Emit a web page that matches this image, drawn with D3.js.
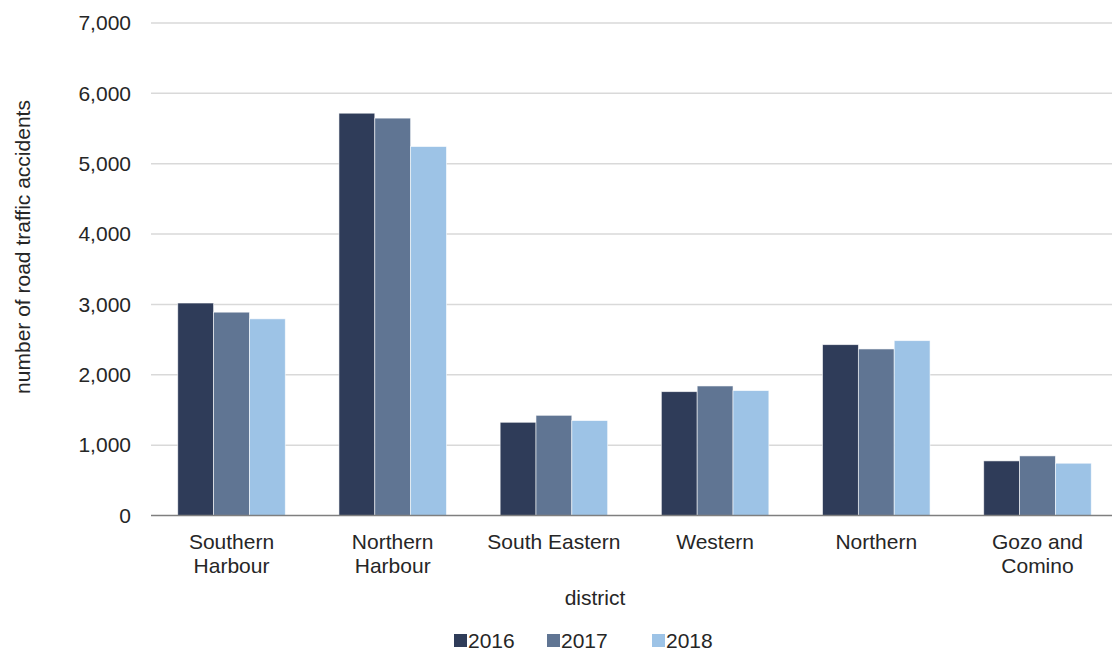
<!DOCTYPE html>
<html><head><meta charset="utf-8">
<script src="https://cdn.jsdelivr.net/npm/d3@7"></script>
<style>body{margin:0;background:#fff;}svg{display:block;font-family:"Liberation Sans",Arial,sans-serif;}</style>
</head><body><svg id="c" width="1112" height="651"></svg>
<script>
const categories = [["Southern","Harbour"],["Northern","Harbour"],["South Eastern"],["Western"],["Northern"],["Gozo and","Comino"]];
const years = ["2016","2017","2018"];
const v2016 = [3020, 5718, 1325, 1760, 2428, 776];
const v2017 = [2890, 5648, 1424, 1841, 2367, 847];
const v2018 = [2795, 5244, 1349, 1775, 2485, 743];
const yTicks = [0,1000,2000,3000,4000,5000,6000,7000];
const colors = ["#2F3C59","#607593","#9DC3E6"];
const series = [v2016, v2017, v2018];

(function(){
const svg = d3.select("#c");
const pLeft = 151, pRight = 1118, pTop = 23, pBottom = 515.5;
const FS = 21, TXT = "#262626";
const keys = categories.map((c,i)=>i);
const x = d3.scaleBand().domain(keys).range([pLeft,pRight]).paddingInner(0.333).paddingOuter(0.166);
const x1 = d3.scaleBand().domain(years).range([0,x.bandwidth()]);
const y = d3.scaleLinear().domain([0,7000]).range([pBottom,pTop]);

svg.append("g").selectAll("line").data(yTicks.filter(t=>t>0)).join("line")
  .attr("x1",pLeft).attr("x2",pRight).attr("y1",d=>y(d)).attr("y2",d=>y(d))
  .attr("stroke","#D9D9D9").attr("stroke-width",1.5);

const ya = svg.append("g").attr("transform",`translate(${pLeft},0)`)
  .call(d3.axisLeft(y).tickValues(yTicks).tickSize(0).tickPadding(20).tickFormat(d3.format(",")));
ya.select(".domain").remove();
ya.selectAll("text").attr("font-size",FS).attr("fill",TXT).attr("font-family","Liberation Sans, Arial, sans-serif");

const g = svg.append("g");
series.forEach((s,si)=>{
  g.append("g").selectAll("rect").data(s).join("rect")
    .attr("x",(d,i)=>x(i)+x1(years[si]))
    .attr("y",d=>y(d)).attr("width",x1.bandwidth()).attr("height",d=>y(0)-y(d))
    .attr("fill",colors[si]).attr("stroke","#ffffff").attr("stroke-width",0.8).attr("stroke-opacity",0.7);
});

svg.append("line").attr("x1",pLeft).attr("x2",pRight).attr("y1",pBottom).attr("y2",pBottom)
  .attr("stroke","#7F7F7F").attr("stroke-width",1.5);

const xa = svg.append("g").selectAll("text").data(categories).join("text")
  .attr("x",(d,i)=>x(i)+x.bandwidth()/2).attr("y",549)
  .attr("text-anchor","middle").attr("font-size",FS).attr("fill",TXT);
xa.each(function(d){
  const t = d3.select(this);
  d.forEach((line,li)=>t.append("tspan").attr("x",t.attr("x")).attr("dy",li===0?0:24).text(line));
});

svg.append("text").attr("x",595).attr("y",605).attr("text-anchor","middle")
  .attr("font-size",FS).attr("fill",TXT).text("district");
svg.append("text").attr("transform",`translate(30,247) rotate(-90)`)
  .attr("text-anchor","middle").attr("font-size",FS).attr("fill",TXT).text("number of road traffic accidents");

const legX = [454, 547, 652];
const leg = svg.append("g").selectAll("g").data(years).join("g")
  .attr("transform",(d,i)=>`translate(${legX[i]},634)`);
leg.append("rect").attr("width",13).attr("height",13).attr("fill",(d,i)=>colors[i]);
leg.append("text").attr("x",14).attr("y",14).attr("font-size",FS).attr("fill",TXT).text(d=>d);
})();
</script></body></html>
